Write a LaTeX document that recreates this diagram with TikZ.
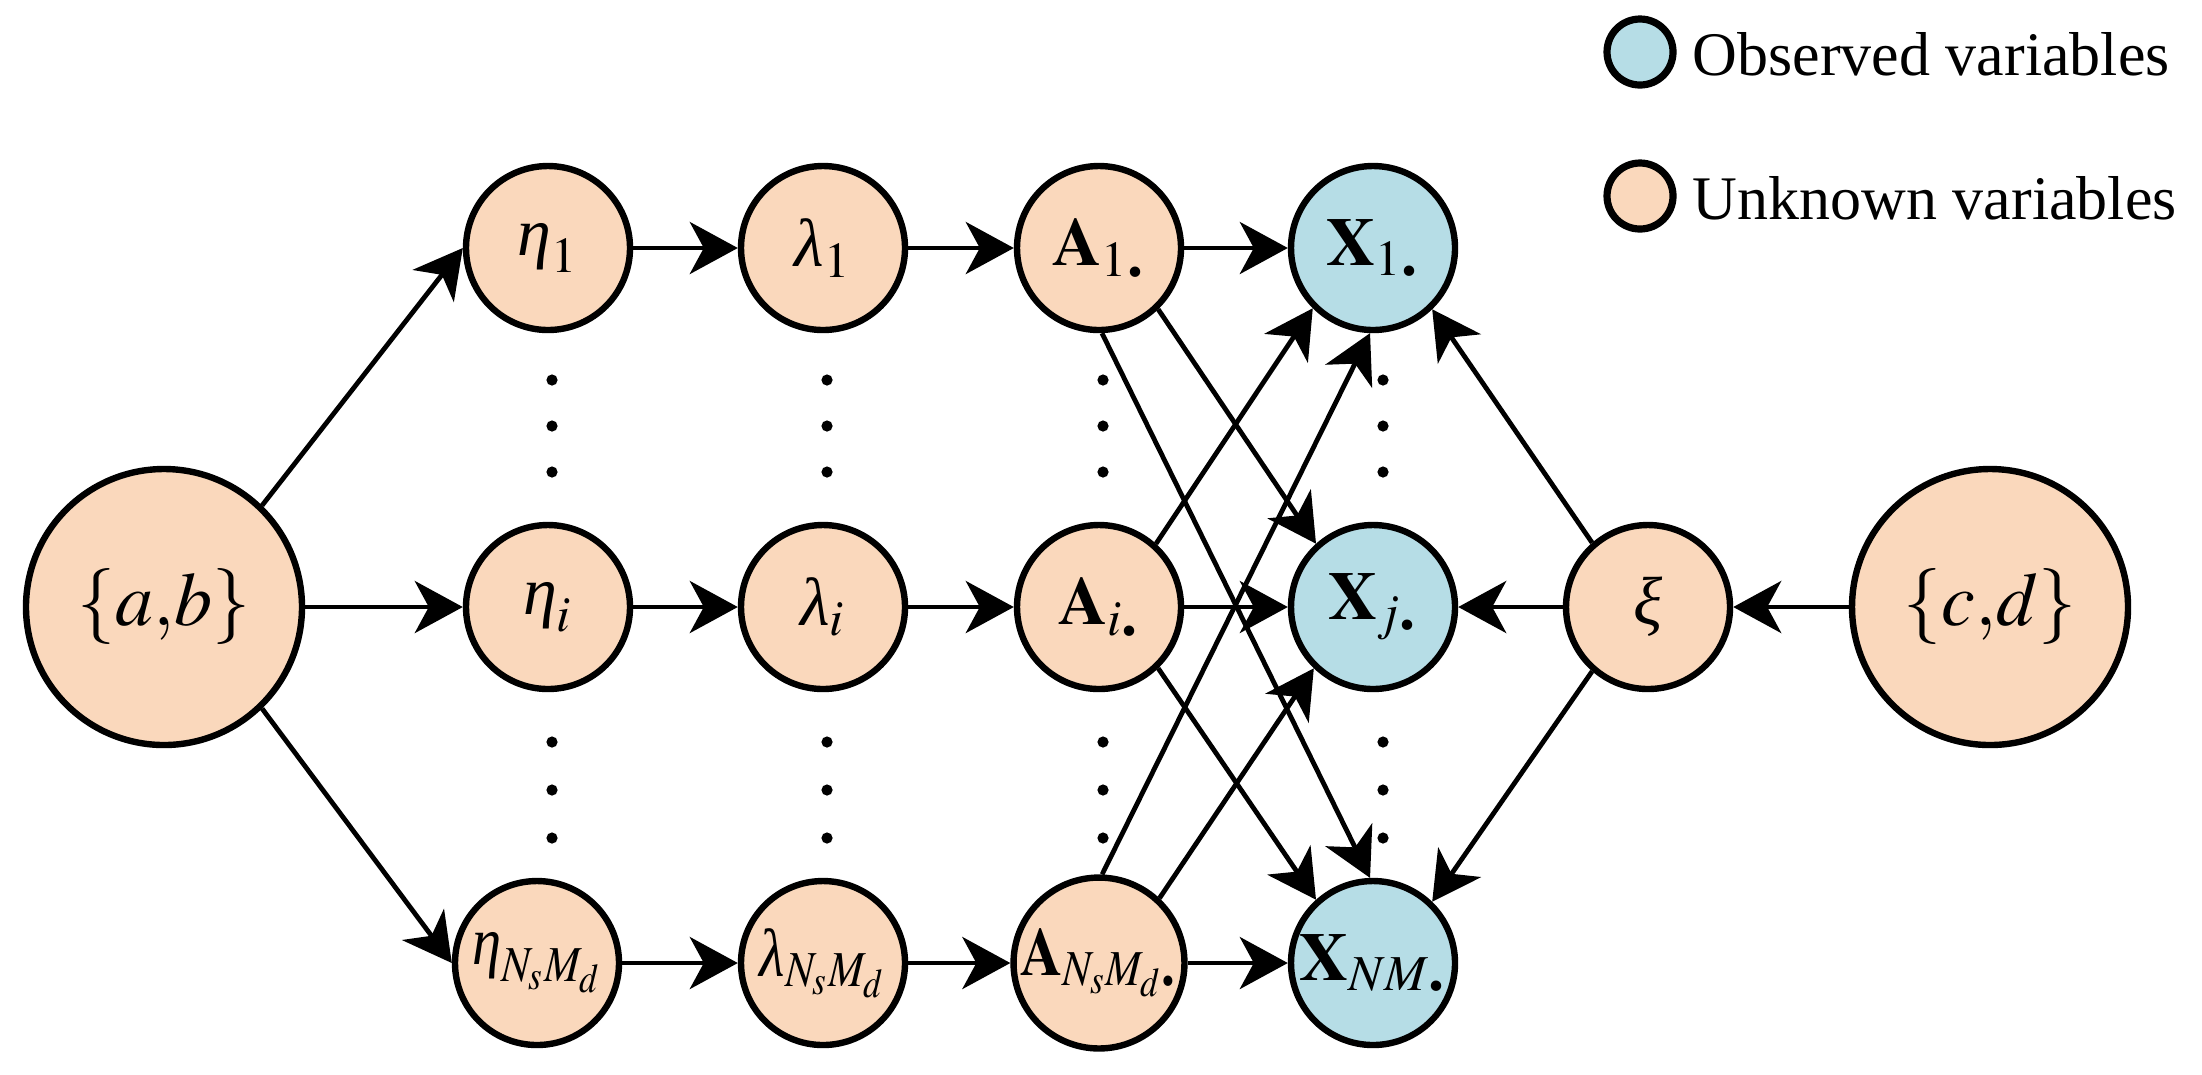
\documentclass[tikz,border=0pt]{standalone}
\usepackage{mathptmx}
\usepackage[no-math]{fontspec}
\setmainfont{Liberation Serif}
\usepackage{graphicx}
\usetikzlibrary{arrows.meta}
\definecolor{peach}{RGB}{250,216,188}
\definecolor{lblue}{RGB}{182,221,230}
\newcommand{\bdot}{\mbox{\fontsize{16}{16}\selectfont\bfseries .}}
\newcommand{\gk}[1]{\mbox{\itshape #1}}
\newcommand{\squeeze}[1]{\scalebox{0.86}[1]{#1}}
\tikzset{
  unk/.style={circle, draw, line width=1.6pt, fill=peach, minimum size=41pt, inner sep=0pt, font=\fontsize{17}{20}\selectfont},
  obs/.style={unk, fill=lblue},
  bignode/.style={unk, minimum size=69pt, font=\fontsize{19}{22}\selectfont},
  legc/.style={circle, draw, line width=1.8pt, minimum size=16.5pt, inner sep=0pt},
  legt/.style={anchor=base west, inner sep=0pt, font=\fontsize{15.5}{18}\selectfont},
  arr/.style={-{Stealth[length=12pt,width=13pt,inset=3.5pt]}, line width=1.2pt},
  vdot/.style={circle, fill=black, inner sep=0pt, minimum size=2.8pt}
}
\begin{document}
\begin{tikzpicture}[x=0.25pt, y=-0.25pt]
\useasboundingbox (0,0) rectangle (2202,1074);
% nodes
\node[bignode] (ab) at (164,607) {$\{a{,}b\}$};
\node[unk] (e1) at (548,248) {$\gk{η}_1$};
\node[unk] (ei) at (548,607) {$\gk{η}_i$};
\node[unk] (en) at (537,963) {\squeeze{$\gk{η}_{N_sM_d}$}};
\node[unk] (l1) at (823,248) {$\gk{λ}_1$};
\node[unk] (li) at (823,607) {$\gk{λ}_i$};
\node[unk] (ln) at (823,963) {\squeeze{$\gk{λ}_{N_sM_d}$}};
\node[unk] (a1) at (1099,248) {$\mathbf{A}_{1\bdot}$};
\node[unk] (ai) at (1099,607) {$\mathbf{A}_{i\bdot}$};
\node[unk] (an) at (1099,963) {\squeeze{$\mathbf{A}_{N_sM_d\bdot}$}};
\node[obs] (x1) at (1373,248) {$\mathbf{X}_{1\bdot}$};
\node[obs] (xj) at (1373,607) {$\mathbf{X}_{j\bdot}$};
\node[obs] (xn) at (1373,963) {$\mathbf{X}_{NM\bdot}$};
\node[unk] (xi) at (1648,607) {$\gk{ξ}$};
\node[bignode] (cd) at (1990,607) {$\{c{,}d\}$};
% legend
\node[legc, fill=lblue] (lo) at (1640,52) {};
\node[legt] (lot) at (1692,75) {Observed variables};
\node[legc, fill=peach] (lu) at (1640,196) {};
\node[legt] (lut) at (1692,219) {Unknown variables};
% vertical dots
\foreach \c/\x in {e/552, l/827, a/1103, x/1383}{
  \foreach \k/\y in {1/380, 2/426, 3/472, 4/742, 5/790, 6/838}{
    \node[vdot] (dot\c\k) at (\x,\y) {};
  }
}
% arrows
\draw[arr] (ab.46) -- (e1.west);
\draw[arr] (ab) -- (ei);
\draw[arr] (ab.-46) -- (en.west);
\draw[arr] (e1) -- (l1);
\draw[arr] (l1) -- (a1);
\draw[arr] (a1) -- (x1);
\draw[arr] (ei) -- (li);
\draw[arr] (li) -- (ai);
\draw[arr] (ai) -- (xj);
\draw[arr] (en) -- (ln);
\draw[arr] (ln) -- (an);
\draw[arr] (an) -- (xn);
\draw[arr] (a1.-46) -- (xj.132);
\draw[arr] (a1.-88) -- (xn.92);
\draw[arr] (ai.48) -- (x1.225);
\draw[arr] (ai.-46) -- (xn.132);
\draw[arr] (an.88) -- (x1.268);
\draw[arr] (an.47) -- (xj.226);
\draw[arr] (xi.131) -- (x1.-46);
\draw[arr] (xi) -- (xj);
\draw[arr] (xi.-131) -- (xn.46);
\draw[arr] (cd) -- (xi);
\end{tikzpicture}
\end{document}
